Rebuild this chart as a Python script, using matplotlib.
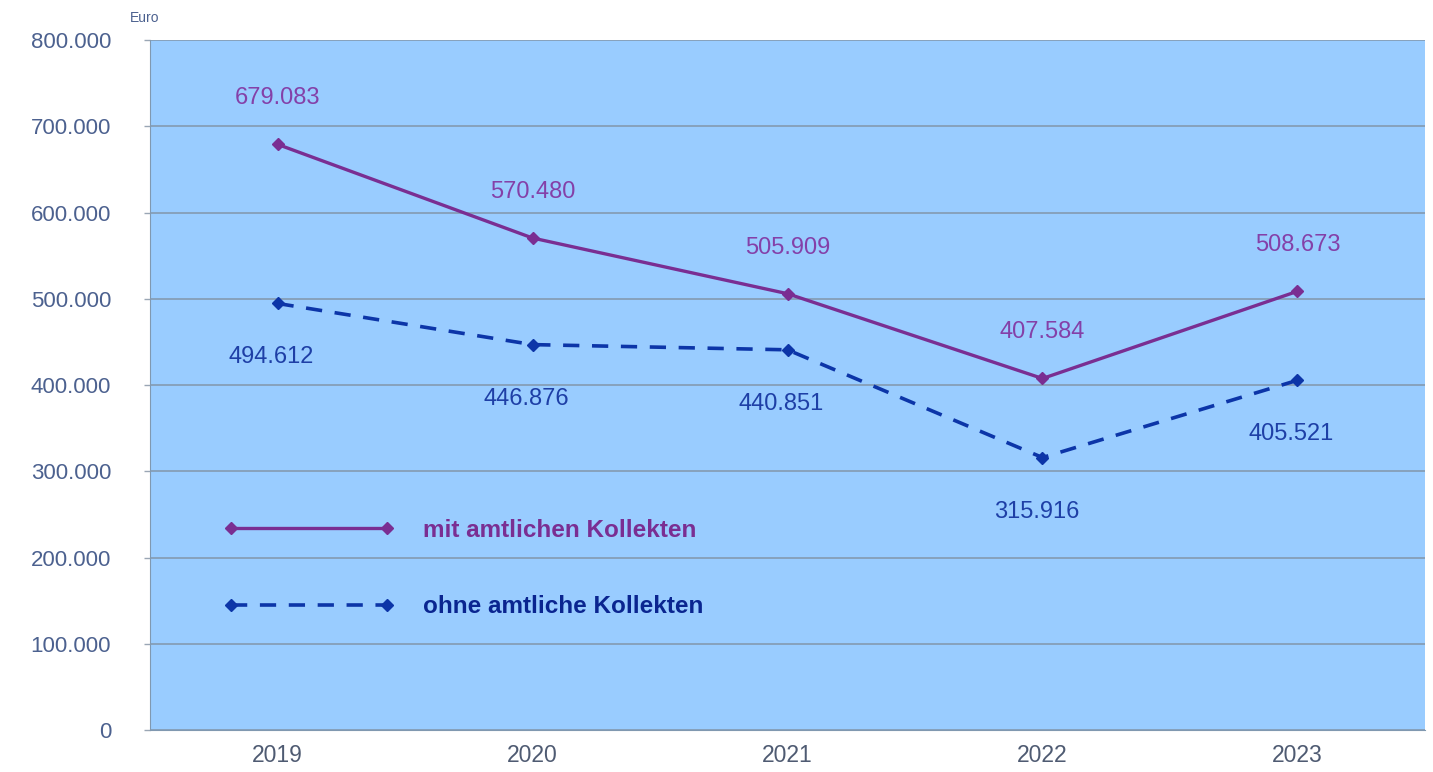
import matplotlib.pyplot as plt
from matplotlib.ticker import FuncFormatter

# Daten
jahre = ['2019', '2020', '2021', '2022', '2023']
mit_kollekten = [679083, 570480, 505909, 407584, 508673]
ohne_kollekten = [494612, 446876, 440851, 315916, 405521]
y_ticks = [0, 100000, 200000, 300000, 400000, 500000, 600000, 700000, 800000]

lila = '#7A2E92'
blau = '#0C35A8'
lila_text = '#8440A8'
blau_text = '#1E3FA6'
achse_text = '#4C618F'

plt.rcParams['font.family'] = ['Liberation Sans', 'DejaVu Sans']


def de_format(v, pos=None):
    return '0' if v == 0 else f'{v:,.0f}'.replace(',', '.')


fig = plt.figure(figsize=(14.33, 7.72), dpi=100)
ax = fig.add_axes([0.1047, 0.0544, 0.8897, 0.8937])
ax.set_facecolor('#99CCFF')

x = range(len(jahre))
ax.plot(x, mit_kollekten, color=lila, lw=2.4, marker='D', ms=6.5,
        label='mit amtlichen Kollekten', zorder=3)
ax.plot(x, ohne_kollekten, color=blau, lw=2.6, marker='D', ms=6.5,
        dashes=(4.5, 3.5), label='ohne amtliche Kollekten', zorder=3)

for i, v in enumerate(mit_kollekten):
    ax.annotate(de_format(v), (i, v), xytext=(0, 46), textcoords='offset pixels',
                ha='center', va='center', fontsize=17, color=lila_text)
for i, v in enumerate(ohne_kollekten):
    ax.annotate(de_format(v), (i, v), xytext=(-6, -54), textcoords='offset pixels',
                ha='center', va='center', fontsize=17, color=blau_text)

ax.set_xlim(-0.5, len(jahre) - 0.5)
ax.set_ylim(0, 800000)
ax.set_yticks(y_ticks)
ax.yaxis.set_major_formatter(FuncFormatter(de_format))
ax.set_xticks(list(x))
ax.set_xticklabels(jahre)
ax.grid(axis='y', color='#8296AA', lw=1.1, zorder=1)
ax.set_axisbelow(True)

ax.tick_params(axis='y', length=4, width=1, color='#9AA6B4', pad=24,
               labelsize=16, labelcolor=achse_text)
ax.tick_params(axis='x', length=0, pad=10, labelsize=16.5, labelcolor='#4F5B72')
for s in ['top', 'right']:
    ax.spines[s].set_visible(False)
ax.spines['left'].set_color('#8098B0')
ax.spines['bottom'].set_color('#8098B0')

ax.text(-0.016, 1.032, 'Euro', transform=ax.transAxes, ha='left', va='center',
        fontsize=10, color=achse_text)

leg = ax.legend(loc='center left', bbox_to_anchor=(0.058, 0.234), frameon=False,
                numpoints=2, handlelength=7.0, handletextpad=1.2, labelspacing=2.2,
                borderpad=0, borderaxespad=0, prop={'size': 17.5, 'weight': 'bold'})
for t, c in zip(leg.get_texts(), [lila, '#0A2590']):
    t.set_color(c)

plt.savefig('out.png', dpi=100)
